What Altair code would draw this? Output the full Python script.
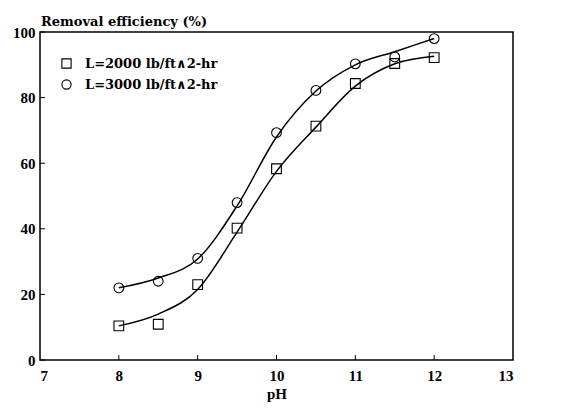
import altair as alt
import pandas as pd

# Measured data points
ph = [8, 8.5, 9, 9.5, 10, 10.5, 11, 11.5, 12]
eff_2000 = [10.4, 10.9, 23, 40.2, 58.3, 71.3, 84.3, 90.4, 92.2]
eff_3000 = [22, 24, 31, 48, 69.3, 82.2, 90.3, 92.4, 98]

# Fitted curves
curve_ph = [8, 8.5, 9, 9.5, 10, 10.5, 11, 11.5, 12]
curve_2000 = [10.4, 14, 21.5, 39, 57.5, 71, 83.5, 90.3, 92.6]
curve_3000 = [22, 25, 30.8, 47, 68, 82, 90, 94, 98]

series_names = ["L=2000 lb/ft\u22272-hr", "L=3000 lb/ft\u22272-hr"]
y_ticks = [0, 20, 40, 60, 80, 100]
x_ticks = [7, 8, 9, 10, 11, 12, 13]

pts = pd.DataFrame({
    "pH": ph + ph,
    "eff": eff_2000 + eff_3000,
    "series": [series_names[0]] * len(ph) + [series_names[1]] * len(ph),
})
curves = pd.DataFrame({
    "pH": curve_ph + curve_ph,
    "eff": curve_2000 + curve_3000,
    "series": [series_names[0]] * len(curve_ph) + [series_names[1]] * len(curve_ph),
})

FONT = "Liberation Serif"
WIDE = "DejaVu Serif"

xscale = alt.Scale(domain=[7, 13], nice=False, zero=False)
yscale = alt.Scale(domain=[0, 100], nice=False)

x_enc = alt.X("pH:Q", scale=xscale,
              axis=alt.Axis(values=x_ticks, title="pH", tickSize=0, labelPadding=8,
                            titlePadding=3, grid=False, domain=False, format="d",
                            labelFont=FONT, labelFontSize=15, labelFontWeight="bold",
                            labelColor="black", titleFont=FONT, titleFontSize=15,
                            titleFontWeight="bold", titleColor="black"))
y_enc = alt.Y("eff:Q", scale=yscale,
              axis=alt.Axis(values=y_ticks, title=None, tickSize=0, labelPadding=5,
                            grid=False, domain=False,
                            labelFont=FONT, labelFontSize=15, labelFontWeight="bold",
                            labelColor="black"))

lines = alt.Chart(curves).mark_line(color="black", strokeWidth=1.5, interpolate="monotone").encode(
    x=x_enc, y=y_enc, detail="series:N"
)

points = alt.Chart(pts).mark_point(filled=False, color="black", strokeWidth=1.1, size=95, opacity=1).encode(
    x="pH:Q",
    y="eff:Q",
    shape=alt.Shape("series:N",
                    scale=alt.Scale(domain=series_names, range=["square", "circle"]),
                    legend=alt.Legend(title=None, orient="none", legendX=20, legendY=25,
                                      symbolSize=85, symbolStrokeColor="black",
                                      symbolStrokeWidth=1.1, symbolFillColor="white",
                                      labelFont=WIDE, labelFontWeight="bold", labelFontSize=13,
                                      labelColor="black",
                                      labelOffset=12, rowPadding=6, padding=0)),
)

ytick_df = pd.DataFrame({"eff": y_ticks})
yticks = alt.Chart(ytick_df).mark_rule(color="black", strokeWidth=1).encode(
    y="eff:Q", x=alt.value(0), x2=alt.value(5)
)
xtick_df = pd.DataFrame({"pH": x_ticks[1:-1]})
xticks = alt.Chart(xtick_df).mark_rule(color="black", strokeWidth=1).encode(
    x="pH:Q", y=alt.value(328), y2=alt.value(323)
)

chart = alt.layer(lines, points, yticks, xticks).properties(
    width=473,
    height=328,
    background="white",
    title=alt.TitleParams("Removal efficiency (%)", anchor="start", frame="group",
                          font=WIDE, fontSize=13, fontWeight="bold", color="black",
                          offset=-4, dx=1),
    padding={"left": 40, "top": 32, "right": 56, "bottom": 48},
    autosize=alt.AutoSizeParams(type="none"),
).configure_view(
    stroke="black", strokeWidth=1.5
)

chart.save("out.html", embed_options={"renderer": "svg", "actions": False})
